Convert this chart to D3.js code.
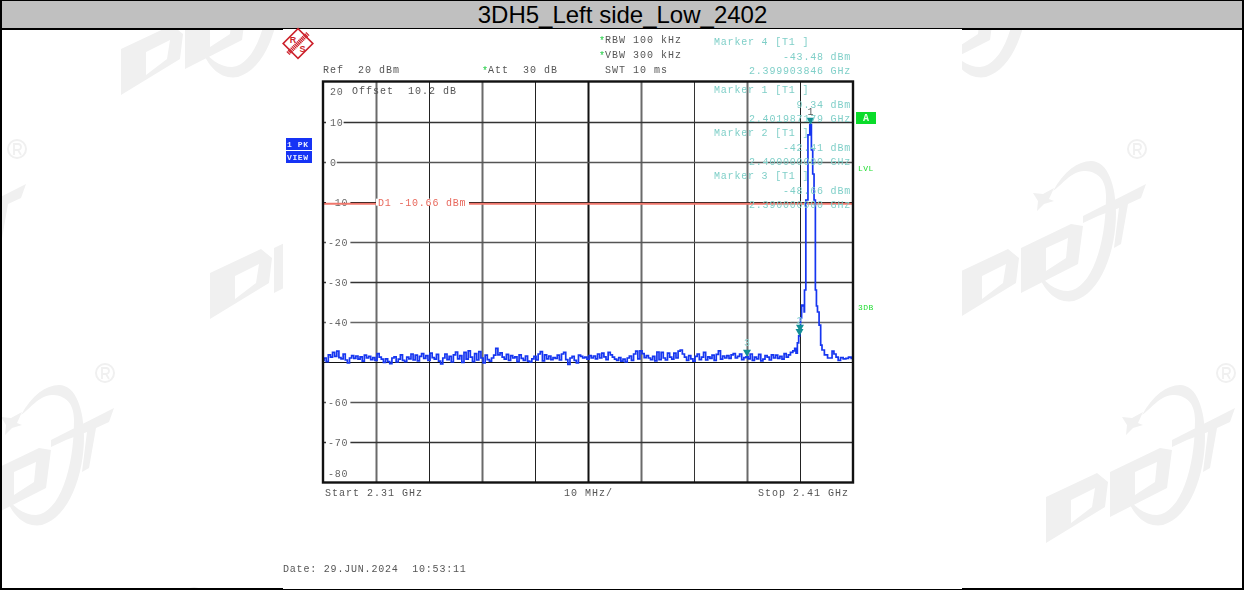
<!DOCTYPE html>
<html><head><meta charset="utf-8">
<script src="https://cdn.jsdelivr.net/npm/d3@7"></script>
<style>
html,body{margin:0;padding:0;background:#fff;overflow:hidden}
svg{display:block}
.m{font-family:"Liberation Mono",monospace;font-size:10px;letter-spacing:.8px;filter:url(#soft);white-space:pre}
.h{letter-spacing:1px}
</style></head><body><div id="c"></div>
<script>
const titleText = "3DH5_Left side_Low_2402";
const yTicks = [20,10,0,-10,-20,-30,-40,-50,-60,-70,-80];
const yTickLabels = ["20","10","0","-10","-20","-30","-40","","-60","-70","-80"];
const xTicks = [2320,2330,2340,2350,2360,2370,2380,2390,2400];
const limitLine = -10.66;

// sweep grid of the noise floor: one reading every 0.4 MHz from 2310 MHz
const noiseStartMHz = 2310, noiseStepMHz = 0.4;
const noiseLevels = [
-49.6,-49.0,-49.9,-48.2,-48.8,-47.6,-48.6,-47.3,-48.9,-49.2,-48.0,-49.5,-50.2,-49.0,-48.4,-49.1,
-48.5,-49.3,-48.7,-49.8,-48.3,-49.0,-48.6,-49.4,-48.9,-49.6,-47.9,-48.8,-49.3,-50.1,-49.2,-49.9,
-50.4,-49.0,-48.7,-50.0,-49.3,-48.2,-49.6,-49.9,-48.8,-49.2,-48.0,-49.5,-48.3,-49.7,-48.6,-47.9,
-49.1,-48.4,-49.6,-47.8,-48.9,-49.3,-48.1,-49.8,-50.5,-49.0,-48.0,-49.4,-48.6,-50.0,-48.2,-47.5,
-49.2,-48.4,-50.1,-47.6,-49.3,-47.2,-48.8,-49.9,-47.9,-49.5,-47.4,-49.0,-50.2,-48.3,-49.4,-49.8,
-49.0,-48.3,-46.6,-48.2,-47.7,-48.8,-49.3,-48.1,-49.6,-48.4,-49.0,-48.7,-49.9,-48.2,-49.1,-49.6,
-48.5,-49.8,-50.0,-49.2,-48.6,-49.5,-48.0,-47.4,-49.7,-48.2,-49.2,-48.5,-49.4,-48.9,-49.1,-48.3,
-49.5,-48.0,-47.6,-49.4,-50.6,-49.0,-48.6,-49.6,-50.2,-48.3,-48.6,-49.0,-48.8,-49.3,-48.4,-49.0,
-48.5,-49.2,-48.0,-49.0,-47.8,-48.7,-49.4,-47.6,-48.2,-48.8,-49.3,-49.6,-48.9,-49.8,-49.3,-50.0,
-49.0,-48.5,-49.6,-48.0,-47.3,-49.2,-47.2,-47.9,-48.9,-48.4,-49.0,-49.4,-48.6,-49.7,-47.5,-49.4,
-47.6,-49.0,-49.5,-47.8,-48.8,-49.3,-47.8,-49.0,-47.3,-47.0,-48.0,-48.8,-49.6,-48.4,-49.2,-49.8,
-48.6,-48.0,-49.4,-48.8,-47.6,-49.5,-48.7,-49.1,-48.3,-49.6,-48.1,-47.2,-49.3,-48.5,-49.0,-48.4,
-49.1,-48.2,-47.9,-49.0,-48.6,-48.0,-49.4,-48.9,-48.7,-49.2,-48.0,-49.6,-48.8,-49.2,-48.1,-49.7,
-49.3,-48.4,-48.8,-49.5,-48.2,-49.0,-48.3,-49.1,-48.6,-49.3,-47.9,-48.8,-48.2,-47.6
];
const peakFreqs = [2398.9,2399.1,2399.4,2399.6,2399.9,2400.0,2400.2,2400.4,2400.75,2400.8,2400.9,2401.3,2401.7,2402.0,2402.3,2402.5,2402.8,2403.0,2403.2,2403.4,2403.8,2404.0,2404.3,2404.9,2405.5,2405.9,2406.2,2406.6,2407.0,2407.4,2407.9,2408.4,2408.9,2409.4,2409.9];
const peakLevels = [-47.2,-46.6,-47.8,-45.2,-43.48,-42.41,-39,-35.8,-36,-37.5,-32,-9.5,6.8,9.34,3,-3,-9.5,-32,-36,-37.5,-40.8,-45.8,-47,-48.2,-49,-49,-47.3,-48,-48.8,-49.6,-48.9,-49.2,-49.1,-48.8,-49.1];

const markerIds = ["1","2","3","4"];
const markerFreqs = [2401.987179,2400.0,2390.0,2399.903846];
const markerLevels = [9.34,-42.41,-48.66,-43.48];
const markerReadouts = [
 ["Marker 4 [T1 ]","-43.48 dBm","2.399903846 GHz"],
 ["Marker 1 [T1 ]","9.34 dBm","2.401987179 GHz"],
 ["Marker 2 [T1 ]","-42.41 dBm","2.400000000 GHz"],
 ["Marker 3 [T1 ]","-48.66 dBm","2.390000000 GHz"]
];
const headerTexts = [
 ["Ref  20 dBm",323,73],["Att  30 dB",488,73],["RBW 100 kHz",605,43],["VBW 300 kHz",605,58],["SWT 10 ms",605,73],
 ["Offset  10.2 dB",352,94],["Start 2.31 GHz",325,496],["10 MHz/",564,496],["Stop 2.41 GHz",758,496]
];
const dateText = "Date: 29.JUN.2024  10:53:11";
const starPositions = [[482,73],[599,43],[599,58]];
// watermark anchors: lower-left corner of the logo, in page coordinates
const watermarkAnchors = [[120,97],[868,97],[-164,321],[209,321],[956,321],[-76,545],[1045,545],[13,769]];

const W=1244,H=590;
const svg=d3.select("#c").append("svg").attr("width",W).attr("height",H);
const defs=svg.append("defs");
defs.append("filter").attr("id","soft").attr("x","-5%").attr("y","-20%").attr("width","110%").attr("height","140%")
 .append("feGaussianBlur").attr("stdDeviation",0.3);
defs.append("filter").attr("id","softer").append("feGaussianBlur").attr("stdDeviation",0.6);
const x=d3.scaleLinear().domain([2310,2410]).range([323,853]);
const y=d3.scaleLinear().domain([20,-80]).range([82,482]);

svg.append("rect").attr("width",W).attr("height",H).attr("fill","#fff");

// watermarks
const wmColor="#f0f0f0";
const wm=svg.append("g").attr("fill",wmColor).attr("filter","url(#softer)");
const logo=g=>{
 g.append("path").attr("fill-rule","evenodd").attr("d","M1,-2V-48L52,-72L63,-63L60,-38Z M26,-22L47,-38L50,-57L26,-45Z");
 g.append("path").attr("fill-rule","evenodd").attr("d","M65,-28V-73L115,-97L127,-95L122,-57Z M90,-50L110,-63L112,-83L90,-73Z");
 g.append("path").attr("d","M127,-105L190,-137L185,-123L172,-117L165,-77L158,-73L163,-113L142,-105L127,-98Z");
 g.append("path").attr("d","M97,-130C108,-150 122,-160 135,-160C152,-160 160,-135 160,-108C160,-70 145,-28 118,-20C102,-17 88,-28 80,-52C88,-38 100,-30 112,-30C135,-32 150,-75 150,-125C150,-145 138,-150 128,-150C115,-150 105,-135 97,-130Z");
 g.append("path").attr("d","M77,-128L87,-127L98,-133L93,-122L98,-120L88,-117L81,-110L82,-120Z");
 g.append("circle").attr("cx",181).attr("cy",-172).attr("r",9).attr("fill","none").attr("stroke",wmColor).attr("stroke-width",2);
 g.append("path").attr("transform","translate(181,-172)").attr("fill","none").attr("stroke",wmColor).attr("stroke-width",1.8).attr("d","M-3,6V-5H1A3,3 0 0 1 1,1H-3M1,1L4,6");
};
watermarkAnchors.forEach(a=>logo(wm.append("g").attr("transform",`translate(${a[0]},${a[1]})`)));

// title bar and frame
svg.append("rect").attr("x",0).attr("y",0).attr("width",W).attr("height",29).attr("fill","#c0c0c0");
svg.append("rect").attr("x",283).attr("y",29).attr("width",679).attr("height",560).attr("fill","#fff");
svg.append("path").attr("fill","#000").attr("d","M0,0H1244V590H0Z M2,1V588H283V589H962V588H1242V1Z").attr("fill-rule","evenodd");
svg.append("path").attr("stroke","#000").attr("fill","none").attr("d","M2,29H283").attr("stroke-width",2);
svg.append("path").attr("stroke","#000").attr("fill","none").attr("d","M962,29H1242").attr("stroke-width",2);
svg.append("path").attr("stroke","#000").attr("fill","none").attr("d","M283,28.5H962").attr("stroke-width",1);
svg.append("text").attr("x",622.5).attr("y",23).attr("text-anchor","middle")
 .attr("font-family","Liberation Sans,Arial,sans-serif").attr("font-size",24).attr("fill","#000").text(titleText);

// grid
const gridX=svg.append("g").attr("transform","translate(0,482)")
 .call(d3.axisBottom(x).tickValues(xTicks).tickSize(-400).tickFormat(""));
gridX.select(".domain").remove();
gridX.selectAll("line").attr("stroke",(d,i)=>["#6a6a6a","#222","#6a6a6a","#222","#111","#6a6a6a","#333","#6a6a6a","#222"][i])
 .attr("stroke-width",(d,i)=>[2,1,2,1,2,2,1,2,1][i]);
const gridY=svg.append("g").attr("transform","translate(323,0)")
 .call(d3.axisLeft(y).tickValues(yTicks.slice(1,-1)).tickSize(-530).tickFormat(""));
gridY.select(".domain").remove();
gridY.selectAll("line").attr("stroke",(d,i)=>["#333","#555","#111","#555","#333","#666","#111","#555","#333"][i])
 .attr("stroke-width",(d,i)=>[1.4,1.6,1,1.6,1.4,1.6,1.2,1.4,1.4][i]);

// y tick labels on white
const lab=svg.append("g");
yTicks.forEach((v,i)=>{
 if(!yTickLabels[i]) return;
 const yy=v===20?y(v)+13:(v===-80?y(v)-5:y(v)+3.5);
 const w=yTickLabels[i].length*6.8+4;
 if(v!==20&&v!==-80) lab.append("rect").attr("x",326).attr("y",y(v)-4).attr("width",w).attr("height",8).attr("fill","#fff");
 lab.append("text").attr("class","m").attr("x",v<0?328:330).attr("y",yy).attr("fill","#666").text(yTickLabels[i]);
});

// limit line
svg.append("line").attr("x1",323).attr("x2",853).attr("y1",y(limitLine)-1).attr("y2",y(limitLine)-1).attr("stroke","#f0776c").attr("stroke-width",2);
svg.append("rect").attr("x",376).attr("y",y(limitLine)-6).attr("width",93).attr("height",7).attr("fill","#fff");
svg.append("text").attr("class","m").attr("x",378).attr("y",y(limitLine)+1).attr("fill","#e8685c").text("D1 -10.66 dBm");

// header texts
svg.append("g").selectAll("text").data(headerTexts).join("text").attr("class","m h")
 .attr("x",d=>d[1]).attr("y",d=>d[2]).attr("fill","#555").text(d=>d[0]);
svg.append("text").attr("class","m").attr("x",283).attr("y",572).attr("fill","#555").text(dateText);
svg.append("g").selectAll("text").data(starPositions).join("text").attr("class","m")
 .attr("x",d=>d[0]).attr("y",d=>d[1]+1).attr("fill","#22cc44").text("*");

// trace
const trace=noiseLevels.map((v,i)=>[noiseStartMHz+i*noiseStepMHz,v]).concat(peakFreqs.map((f,i)=>[f,peakLevels[i]]));
const line=d3.line().x(d=>x(d[0])).y(d=>y(d[1])).curve(d3.curveStep);
svg.append("path").datum(trace).attr("d",line).attr("fill","none").attr("stroke","#1636f0").attr("stroke-width",1.7).attr("stroke-linejoin","miter");

// frame of the plot
svg.append("rect").attr("x",x(2310)).attr("y",y(20)-.5).attr("width",x(2410)-x(2310)).attr("height",y(-80)-y(20)+1).attr("fill","none").attr("stroke","#111").attr("stroke-width",2.4);

// markers
markerIds.forEach((id,i)=>{
 const mx=x(markerFreqs[i]), my=y(markerLevels[i]);
 svg.append("path").attr("d",`M${mx-4},${my-7}H${mx+4}L${mx},${my}Z`).attr("fill","#128f95");
 if(id!=="2") svg.append("text").attr("class","m").attr("x",mx-3).attr("y",my-(id==="3"?11:(id==="1"?10:12))).attr("fill",id==="1"?"#555":"#8fd4cf").text(id==="4"?"2":id);
});

// marker readouts
const ro=svg.append("g").attr("fill","#7fcfc8");
const roY=[45,93,136,179];
markerReadouts.forEach((r,i)=>{
 ro.append("text").attr("class","m").attr("x",714).attr("y",roY[i]).text(r[0]);
 ro.append("text").attr("class","m").attr("x",851).attr("y",roY[i]+14.5).attr("text-anchor","end").text(r[1]);
 ro.append("text").attr("class","m").attr("x",851).attr("y",roY[i]+29).attr("text-anchor","end").text(r[2]);
});

// side flags
svg.append("rect").attr("x",856).attr("y",112).attr("width",20).attr("height",12).attr("fill","#0adc2a");
svg.append("text").attr("class","m").attr("x",863).attr("y",121).attr("fill","#eaffea").attr("font-weight","bold").text("A");
[["LVL",858,171],["3DB",858,310]].forEach(d=>svg.append("text").attr("class","m").attr("x",d[1]).attr("y",d[2]).attr("fill","#22dd33").style("font-size","8px").style("letter-spacing","0.4px").text(d[0]));
[["1 PK",138],["VIEW",151]].forEach(d=>{
 svg.append("rect").attr("x",286).attr("y",d[1]).attr("width",26).attr("height",12).attr("fill","#1633f5");
 svg.append("text").attr("class","m").attr("x",287).attr("y",d[1]+9).attr("fill","#e8ecff").attr("font-weight","bold").style("font-size","8px").style("letter-spacing","0.6px").text(d[0]);
});

// R&S mark
const rs=svg.append("g").attr("transform","translate(298,43.5)");
rs.append("rect").attr("x",-10.5).attr("y",-10.5).attr("width",21).attr("height",21).attr("transform","rotate(45)").attr("fill","#fff").attr("stroke","#cc1f2a").attr("stroke-width",1.6);
rs.append("line").attr("x1",-10).attr("y1",10).attr("x2",10).attr("y2",-10).attr("stroke","#cc1f2a").attr("stroke-width",4.5).attr("stroke-dasharray","1.2 .6");
rs.append("text").attr("x",-5).attr("y",-1).attr("text-anchor","middle").attr("font-family","Liberation Sans").attr("font-weight","bold").attr("font-size",9).attr("fill","#cc1f2a").text("R");
rs.append("text").attr("x",4.5).attr("y",8).attr("text-anchor","middle").attr("font-family","Liberation Sans").attr("font-weight","bold").attr("font-size",9).attr("fill","#cc1f2a").text("S");
</script></body></html>
